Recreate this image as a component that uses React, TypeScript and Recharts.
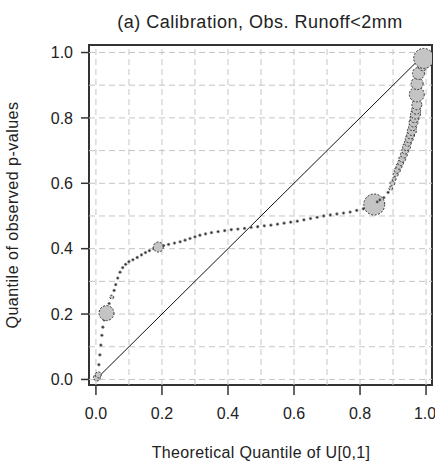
import React from 'react';
import {
  ScatterChart, Scatter, XAxis, YAxis, ZAxis, ReferenceLine, ReferenceArea
} from 'recharts';

// theoretical quantile of U[0,1]
const qTheoretical = [
  0.003, 0.007, 0.009, 0.012, 0.015, 0.018, 0.021, 0.025, 0.032, 0.040,
  0.048, 0.055, 0.060, 0.066, 0.073, 0.081, 0.090, 0.100, 0.112, 0.125,
  0.138, 0.150, 0.162, 0.175, 0.189, 0.205, 0.220, 0.238, 0.255, 0.270,
  0.285, 0.300, 0.315, 0.332, 0.350, 0.370, 0.390, 0.410, 0.430, 0.450,
  0.470, 0.490, 0.510, 0.530, 0.550, 0.570, 0.590, 0.610, 0.630, 0.650,
  0.670, 0.690, 0.710, 0.730, 0.750, 0.770, 0.790, 0.810, 0.843, 0.852,
  0.860, 0.872, 0.885, 0.893, 0.898, 0.903, 0.908, 0.913, 0.918, 0.923,
  0.928, 0.933, 0.937, 0.941, 0.945, 0.949, 0.953, 0.957, 0.959, 0.962,
  0.965, 0.968, 0.970, 0.972, 0.972, 0.973, 0.977, 0.990, 0.993,
];

// quantile of observed p-values
const qObserved = [
  0.006, 0.014, 0.045, 0.075, 0.105, 0.135, 0.160, 0.182, 0.203, 0.232,
  0.252, 0.272, 0.290, 0.310, 0.328, 0.342, 0.352, 0.360, 0.366, 0.373,
  0.381, 0.388, 0.394, 0.400, 0.405, 0.409, 0.413, 0.417, 0.421, 0.426,
  0.431, 0.436, 0.441, 0.445, 0.449, 0.452, 0.455, 0.458, 0.460, 0.462,
  0.465, 0.467, 0.470, 0.472, 0.475, 0.478, 0.481, 0.484, 0.488, 0.492,
  0.496, 0.500, 0.503, 0.506, 0.509, 0.512, 0.517, 0.522, 0.535, 0.543,
  0.549, 0.556, 0.572, 0.585, 0.600, 0.613, 0.627, 0.640, 0.652, 0.663,
  0.675, 0.688, 0.700, 0.712, 0.724, 0.736, 0.748, 0.760, 0.773, 0.786,
  0.799, 0.812, 0.825, 0.840, 0.872, 0.905, 0.936, 0.958, 0.982,
];

// symbol weight (bubble size)
const weight = [
  12, 9, 1, 1, 1, 1, 1, 1, 56, 1,
  4, 1, 1, 1, 1, 1, 1, 1, 1, 1,
  1, 1, 1, 1, 25, 1, 1, 1, 1, 1,
  1, 1, 1, 1, 1, 1, 1, 1, 1, 1,
  1, 1, 1, 1, 1, 1, 1, 1, 1, 1,
  1, 1, 1, 1, 1, 1, 1, 1, 110, 1,
  1, 2, 1, 4, 6, 4, 6, 9, 9, 9,
  12, 12, 12, 16, 12, 16, 16, 20, 16, 20,
  20, 25, 20, 25, 56, 36, 36, 20, 100,
];

const axisTicks = [0, 0.2, 0.4, 0.6, 0.8, 1.0];
const gridSteps = [0, 0.1, 0.2, 0.3, 0.4, 0.5, 0.6, 0.7, 0.8, 0.9, 1.0];
const identity = [0, 1];
const xDomain = [-0.021, 1.018];
const yDomain = [-0.017, 1.023];

const points = qTheoretical.map((x, i) => ({ x, y: qObserved[i], w: weight[i] }));

const FONT = '"Liberation Sans", Arial, sans-serif';
const TEXT = '#222';

const Bubble = (props: any) => {
  const { cx, cy, size, width } = props;
  if (cx == null || cy == null) return null;
  const r = size != null ? Math.sqrt(size / Math.PI) : (width || 2) / 2;
  if (r < 1.6) {
    return <circle cx={cx} cy={cy} r={1.4} fill="#333" stroke="#aaa" strokeWidth={0.6} />;
  }
  return (
    <circle cx={cx} cy={cy} r={r} fill="#c4c4c4" stroke="#333" strokeWidth={1} strokeDasharray="2 1.5" />
  );
};

const App: React.FC = () => {
  return (
    <div style={{ position: 'absolute', left: 0, top: 0, width: 435, height: 466, background: '#fff', fontFamily: FONT }}>
      <div style={{ position: 'absolute', left: 60, top: 11, width: 400, textAlign: 'center', fontSize: 18, lineHeight: '22px', letterSpacing: 0.5, color: TEXT }}>
        (a) Calibration, Obs. Runoff&lt;2mm
      </div>
      <div style={{ position: 'absolute', left: 13 - 150, top: 215 - 10, width: 300, height: 20, textAlign: 'center', fontSize: 16, lineHeight: '20px', letterSpacing: 0.5, color: TEXT, transform: 'rotate(-90deg)' }}>
        Quantile of observed p-values
      </div>
      <div style={{ position: 'absolute', left: 61, top: 443, width: 400, textAlign: 'center', fontSize: 16, lineHeight: '20px', letterSpacing: 0.35, color: TEXT }}>
        Theoretical Quantile of U[0,1]
      </div>
      <ScatterChart width={435} height={466} margin={{ top: 45, right: 3, bottom: 0, left: 0 }}>
        <XAxis
          type="number" dataKey="x" domain={xDomain} ticks={axisTicks} allowDataOverflow
          axisLine={false} tickSize={10} tickMargin={13} height={81}
          tickLine={{ stroke: '#333', strokeWidth: 1.5 }}
          tick={{ fill: TEXT, fontSize: 16, fontFamily: FONT }}
          tickFormatter={(v: number) => v.toFixed(1)}
        />
        <YAxis
          type="number" dataKey="y" domain={yDomain} ticks={axisTicks} allowDataOverflow
          axisLine={false} tickSize={8} tickMargin={8} width={89}
          tickLine={{ stroke: '#333', strokeWidth: 1.5 }}
          tick={{ fill: TEXT, fontSize: 16, fontFamily: FONT }}
          tickFormatter={(v: number) => v.toFixed(1)}
        />
        <ZAxis type="number" dataKey="w" domain={[0, 110]} range={[0, 110 * Math.PI]} />
        {gridSteps.map((g) => (
          <ReferenceLine key={'v' + g} x={g} stroke="#c6c6c6" strokeDasharray="6 4" />
        ))}
        {gridSteps.map((g) => (
          <ReferenceLine key={'h' + g} y={g} stroke="#c6c6c6" strokeDasharray="6 4" />
        ))}
        <ReferenceArea
          x1={xDomain[0]} x2={xDomain[1]} y1={yDomain[0]} y2={yDomain[1]}
          fill="none" stroke="#333" strokeWidth={2} ifOverflow="visible"
        />
        <ReferenceLine
          segment={[{ x: identity[0], y: identity[0] }, { x: identity[1], y: identity[1] }]}
          stroke="#111" strokeWidth={1}
        />
        <Scatter data={points} shape={Bubble} isAnimationActive={false} />
      </ScatterChart>
    </div>
  );
};

export default App;
